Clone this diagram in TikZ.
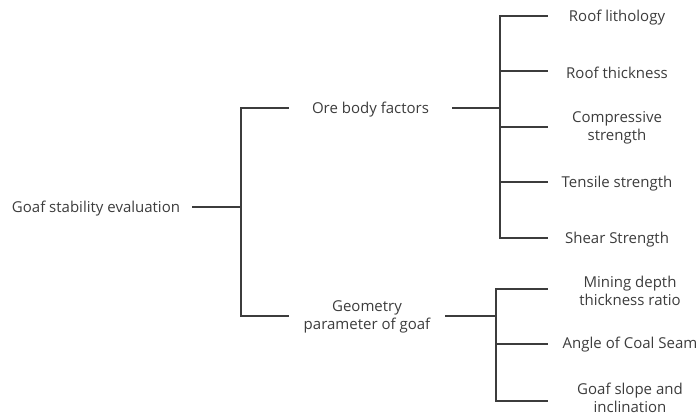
\documentclass[tikz,border=0pt]{standalone}
\usepackage{fontspec}
\setmainfont{Open Sans}
\definecolor{ink}{HTML}{3C3C3C}

\begin{document}
\begin{tikzpicture}[x=1pt, y=-1pt,
  lbl/.style={inner sep=0pt, text=ink, align=center, font=\fontsize{15}{18}\selectfont},
  branch/.style={draw=ink, line width=1.6pt}]
  \useasboundingbox (0,0) rectangle (700,415);

  \node[lbl, minimum width=192pt] (root) at (96,209) {Goaf stability evaluation};
  \node[lbl, minimum width=163pt] (ore) at (370.5,110) {Ore body factors};
  \node[lbl, minimum width=156pt] (geo) at (367,317) {Geometry\\parameter of goaf};

  \node[lbl, minimum width=138pt] (lith) at (617,18) {Roof lithology};
  \node[lbl, minimum width=138pt] (thick) at (617,73) {Roof thickness};
  \node[lbl, minimum width=138pt] (comp) at (617,128) {Compressive\\strength};
  \node[lbl, minimum width=138pt] (tens) at (617,184) {Tensile strength};
  \node[lbl, minimum width=138pt] (shear) at (617,240) {Shear Strength};

  \node[lbl, minimum width=164pt] (depth) at (630,291) {Mining depth\\thickness ratio};
  \node[lbl, minimum width=164pt] (angle) at (630,345) {Angle of Coal Seam};
  \node[lbl, minimum width=164pt] (slope) at (630,398) {Goaf slope and\\inclination};

  \coordinate (j1) at (241,207);
  \coordinate (j2) at (500,108);
  \coordinate (j3) at (496,316);

  \draw[branch] (root.east |- j1) -- (j1) |- (ore.west |- j2);
  \draw[branch] (j1) |- (geo.west |- j3);

  \draw[branch] (ore.east |- j2) -- (j2);
  \draw[branch] (j2) |- ([yshift=2pt]lith.west);
  \draw[branch] (j2) |- ([yshift=2pt]thick.west);
  \draw[branch] (j2) |- ([yshift=1pt]comp.west);
  \draw[branch] (j2) |- ([yshift=2pt]tens.west);
  \draw[branch] (j2) |- ([yshift=2pt]shear.west);

  \draw[branch] (geo.east |- j3) -- (j3);
  \draw[branch] (j3) |- ([yshift=2pt]depth.west);
  \draw[branch] (j3) |- ([yshift=1pt]angle.west);
  \draw[branch] (j3) |- ([yshift=-3pt]slope.west);
\end{tikzpicture}
\end{document}
